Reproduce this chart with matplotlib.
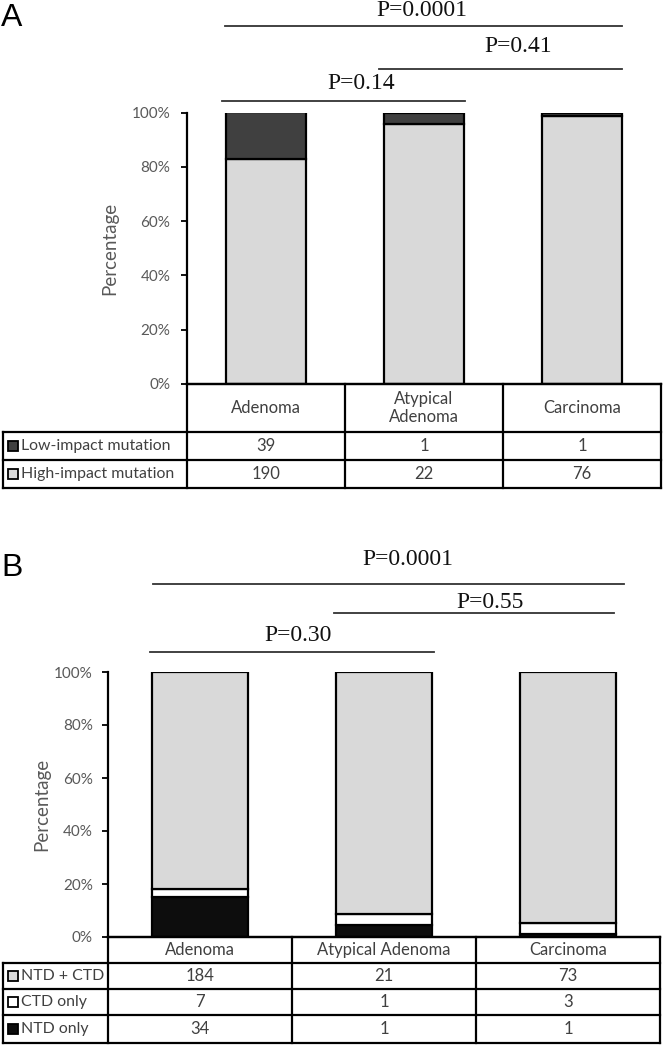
import numpy as np
import matplotlib
matplotlib.use('Agg')
import matplotlib.pyplot as plt
from matplotlib.patches import Rectangle
from matplotlib.ticker import PercentFormatter

plt.rcParams['font.family'] = ['Lato', 'DejaVu Sans']

# panel A: counts per group
groups_a = ['Adenoma', 'Atypical\nAdenoma', 'Carcinoma']
low_impact = [39, 1, 1]
high_impact = [190, 22, 76]
pvals_a = ['P=0.0001', 'P=0.41', 'P=0.14']

# panel B: counts per group
groups_b = ['Adenoma', 'Atypical Adenoma', 'Carcinoma']
ntd_ctd = [184, 21, 73]
ctd_only = [7, 1, 3]
ntd_only = [34, 1, 1]
pvals_b = ['P=0.0001', 'P=0.55', 'P=0.30']

DARK = '#404040'
LIGHT = '#d9d9d9'
BLACK = '#0d0d0d'
WHITE = '#ffffff'

W, H = 663, 1050
fig = plt.figure(figsize=(W / 100, H / 100), dpi=100)

# overlay in pixel coordinates for the data tables
ov = fig.add_axes([0, 0, 1, 1], zorder=5)
ov.set_xlim(0, W)
ov.set_ylim(H, 0)
ov.axis('off')
ov.patch.set_alpha(0)


def px_axes(left, right, top, bottom):
    return fig.add_axes([left / W, 1 - bottom / H, (right - left) / W,
                         (bottom - top) / H])


def style_axes(ax, pad):
    ax.set_xlim(-0.5, 2.5)
    ax.set_ylim(0, 1)
    ax.set_yticks(np.arange(0, 1.01, 0.2))
    ax.yaxis.set_major_formatter(PercentFormatter(1, decimals=0))
    ax.set_xticks([])
    for s in ['top', 'right']:
        ax.spines[s].set_visible(False)
    ax.spines['left'].set_linewidth(1.6)
    ax.spines['bottom'].set_linewidth(1.6)
    ax.tick_params(axis='y', direction='out', length=4, width=1.3,
                   labelcolor='#595959', labelsize=11, pad=pad)
    ax.set_ylabel('Percentage', fontsize=13.5, color='#595959')


def hline(x0, x1, y):
    ov.plot([x0, x1], [y, y], color='black', lw=1.6,
            solid_capstyle='projecting')


def vline(x, y0, y1):
    ov.plot([x, x], [y0, y1], color='black', lw=1.6,
            solid_capstyle='projecting')


def draw_table(left, right, rows_y, headers, names, colors, values):
    edges = np.linspace(left, right, 4)
    centers = (edges[:-1] + edges[1:]) / 2
    top = rows_y[0]
    hline(left, right, top)
    for y in rows_y[1:]:
        hline(3, right, y)
    for x in edges:
        vline(x, top, rows_y[-1])
    vline(3, rows_y[1], rows_y[-1])
    hy = (rows_y[0] + rows_y[1]) / 2
    for cx, h in zip(centers, headers):
        ov.text(cx, hy, h, ha='center', va='center', fontsize=12,
                color='#404040', linespacing=1.1)
    for r, (name, col, vals) in enumerate(zip(names, colors, values)):
        y0, y1 = rows_y[r + 1], rows_y[r + 2]
        yc = (y0 + y1) / 2
        ov.add_patch(Rectangle((8, yc - 5), 10, 10, fc=col, ec='black',
                               lw=1.3))
        ov.text(21, yc, name, ha='left', va='center', fontsize=11.4,
                color='#404040')
        for cx, v in zip(centers, vals):
            ov.text(cx, yc, str(v), ha='center', va='center',
                    fontsize=12, color='#404040')


def brackets(ax, spans, labels, texts):
    for (x0, x1, y), lab, (tx, ty) in zip(spans, labels, texts):
        ax.plot([x0, x1], [y, y], color='#333333', lw=1.3, clip_on=False)
        ax.text(tx, ty, lab, ha='center', va='center', fontsize=17,
                family='Liberation Serif', color='#111111')


# ---------- panel A ----------
axA = px_axes(187, 661, 112.5, 384)
x = np.arange(3)
tot_a = np.array(low_impact) + np.array(high_impact)
hi_pct = np.array(high_impact) / tot_a
lo_pct = np.array(low_impact) / tot_a
axA.bar(x, hi_pct, 0.51, color=LIGHT, edgecolor='black', lw=1.6)
axA.bar(x, lo_pct, 0.51, bottom=hi_pct, color=DARK, edgecolor='black',
        lw=1.6)
style_axes(axA, 8)
axA.yaxis.set_label_coords(-0.162, 0.5)
axA.yaxis.label.set_va('center')

brackets(axA,
         [(-0.26, 2.255, 1.3186), (0.715, 2.255, 1.160), (-0.278, 1.259, 1.044)],
         pvals_a,
         [(0.984, 1.3775), (1.595, 1.2413), (0.601, 1.105)])

draw_table(187, 661, [384, 432, 460, 488], groups_a,
           ['Low-impact mutation', 'High-impact mutation'], [DARK, LIGHT],
           [low_impact, high_impact])

fig.text(1 / W, 1 - 3 / H, 'A', ha='left', va='top', fontsize=23,
         family='Liberation Sans')

# ---------- panel B ----------
axB = px_axes(108, 660, 672, 937)
tot_b = np.array(ntd_ctd) + np.array(ctd_only) + np.array(ntd_only)
p_ntd = np.array(ntd_only) / tot_b
p_ctd = np.array(ctd_only) / tot_b
p_both = np.array(ntd_ctd) / tot_b
axB.bar(x, p_ntd, 0.52, color=BLACK, edgecolor='black', lw=1.6)
axB.bar(x, p_ctd, 0.52, bottom=p_ntd, color=WHITE, edgecolor='black', lw=1.6)
axB.bar(x, p_both, 0.52, bottom=p_ntd + p_ctd, color=LIGHT,
        edgecolor='black', lw=1.6)
style_axes(axB, 7)
axB.yaxis.set_label_coords(-0.12, 0.5)
axB.yaxis.label.set_va('center')

brackets(axB,
         [(-0.255, 2.304, 1.332), (0.728, 2.25, 1.2226), (-0.272, 1.272, 1.0755)],
         pvals_b,
         [(1.13, 1.4264), (1.576, 1.264), (0.533, 1.1396)])

draw_table(108, 660, [937, 963, 989, 1015, 1043], groups_b,
           ['NTD + CTD', 'CTD only', 'NTD only'], [LIGHT, WHITE, BLACK],
           [ntd_ctd, ctd_only, ntd_only])

fig.text(1 / W, 1 - 553 / H, 'B', ha='left', va='top', fontsize=23,
         family='Liberation Sans')

fig.savefig('out.png', dpi=100)
